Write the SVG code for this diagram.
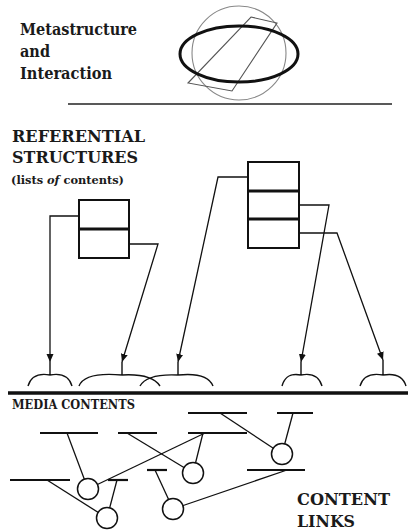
<svg xmlns="http://www.w3.org/2000/svg" width="408" height="531" viewBox="0 0 408 531">
  <style>
    text { font-family: 'DejaVu Serif', 'Liberation Serif', serif; font-weight: bold; fill: #1a1a1a; }
    .box { fill: none; stroke: #111; stroke-width: 2; }
    .div { stroke: #111; stroke-width: 3; }
    .conn { fill: none; stroke: #111; stroke-width: 1.3; }
    .fork { fill: none; stroke: #111; stroke-width: 1.4; }
    .seg { stroke: #111; stroke-width: 2.2; }
    .link { stroke: #111; stroke-width: 1.3; }
    .node { fill: #fff; stroke: #111; stroke-width: 1.5; }
  </style>
  <defs>
    <marker id="arrow" markerUnits="userSpaceOnUse" markerWidth="9" markerHeight="8" refX="8" refY="3.5" orient="auto">
      <path d="M0,0 L8,3.5 L0,7 z" fill="#111"/>
    </marker>
  </defs>
  <rect width="408" height="531" fill="#fff"/>

  <!-- metastructure level -->
  <g id="meta-label">
    <text x="20" y="35" font-size="16" textLength="117" lengthAdjust="spacingAndGlyphs">Metastructure</text>
    <text x="20" y="57" font-size="16" textLength="30" lengthAdjust="spacingAndGlyphs">and</text>
    <text x="20" y="79" font-size="16" textLength="92" lengthAdjust="spacingAndGlyphs">Interaction</text>
  </g>
  <g id="meta-figure">
    <circle cx="239" cy="53" r="47" fill="none" stroke="#888" stroke-width="1.1"/>
    <polygon points="251,17 277,23 232,91 188,83" fill="none" stroke="#555" stroke-width="1.1"/>
    <ellipse cx="239" cy="54" rx="59" ry="28" fill="none" stroke="#111" stroke-width="3"/>
  </g>
  <line x1="68" y1="104" x2="392" y2="104" stroke="#222" stroke-width="1.5"/>

  <!-- referential structures -->
  <g id="ref-label">
    <text x="12" y="142" font-size="17.5" textLength="133" lengthAdjust="spacingAndGlyphs">REFERENTIAL</text>
    <text x="12" y="163" font-size="17.5" textLength="126" lengthAdjust="spacingAndGlyphs">STRUCTURES</text>
    <text x="11" y="184" font-size="11.5" textLength="113" lengthAdjust="spacingAndGlyphs">(lists <tspan font-style="italic">of</tspan> contents)</text>
  </g>
  <g id="list-a">
    <rect class="box" x="79" y="200" width="50" height="58"/>
    <line class="div" x1="79" y1="229" x2="129" y2="229"/>
  </g>
  <g id="list-b">
    <rect class="box" x="248" y="162" width="51" height="86"/>
    <line class="div" x1="248" y1="191" x2="299" y2="191"/>
    <line class="div" x1="248" y1="219" x2="299" y2="219"/>
  </g>

  <g id="connectors">
    <path class="conn" d="M79,216 H50 V362" marker-end="url(#arrow)"/>
    <path class="conn" d="M129,244 H158 L122,362" marker-end="url(#arrow)"/>
    <path class="conn" d="M248,177 H218 L178,362" marker-end="url(#arrow)"/>
    <path class="conn" d="M299,205 H329 L301,362" marker-end="url(#arrow)"/>
    <path class="conn" d="M299,233 H337 L383,360" marker-end="url(#arrow)"/>
  </g>

  <!-- branching anchors on the content line -->
  <g id="anchors">
    <path class="fork" d="M50,362 V375 M50,375 C39,373 31,376 28,386 M50,375 C61,373 69,376 72,386"/>
    <path class="fork" d="M122,362 V375 M122,375 C100,373 83,376 79,386 M122,375 C140,374 154,377 160,386"/>
    <path class="fork" d="M178,362 V375 M178,375 C158,374 145,377 140,386 M178,375 C197,373 209,376 213,386"/>
    <path class="fork" d="M301,362 V375 M301,375 C291,373 285,376 282,386 M301,375 C311,373 319,376 322,386"/>
    <path class="fork" d="M383,360 V375 M383,375 C372,373 363,376 360,386 M383,375 C395,373 403,376 406,386"/>
  </g>
  <line x1="8" y1="393" x2="408" y2="393" stroke="#111" stroke-width="3.5"/>

  <!-- media contents -->
  <g id="media-label">
    <text x="12" y="409" font-size="12" textLength="123" lengthAdjust="spacingAndGlyphs">MEDIA CONTENTS</text>
  </g>
  <g id="content-links">
    <line class="link" x1="220" y1="413" x2="282" y2="454"/>
    <line class="link" x1="293" y1="413" x2="282" y2="454"/>
    <line class="link" x1="67" y1="433" x2="88" y2="489"/>
    <line class="link" x1="127" y1="433" x2="193" y2="473"/>
    <line class="link" x1="203" y1="433" x2="193" y2="473"/>
    <line class="link" x1="205" y1="433" x2="88" y2="489"/>
    <line class="link" x1="47" y1="480" x2="107" y2="518"/>
    <line class="link" x1="117" y1="480" x2="107" y2="518"/>
    <line class="link" x1="155" y1="470" x2="173" y2="509"/>
    <line class="link" x1="287" y1="470" x2="173" y2="509"/>
  </g>
  <g id="segments">
    <line class="seg" x1="188" y1="413" x2="247" y2="413"/>
    <line class="seg" x1="277" y1="413" x2="313" y2="413"/>
    <line class="seg" x1="40" y1="433" x2="98" y2="433"/>
    <line class="seg" x1="118" y1="433" x2="157" y2="433"/>
    <line class="seg" x1="188" y1="433" x2="247" y2="433"/>
    <line class="seg" x1="10" y1="480" x2="70" y2="480"/>
    <line class="seg" x1="108" y1="480" x2="128" y2="480"/>
    <line class="seg" x1="147" y1="470" x2="167" y2="470"/>
    <line class="seg" x1="247" y1="470" x2="305" y2="470"/>
  </g>
  <g id="link-a"><circle class="node" cx="282" cy="454" r="10.5"/></g>
  <g id="link-b"><circle class="node" cx="193" cy="473" r="10.5"/></g>
  <g id="link-c"><circle class="node" cx="88" cy="489" r="10.5"/></g>
  <g id="link-d"><circle class="node" cx="107" cy="518" r="10.5"/></g>
  <g id="link-e"><circle class="node" cx="173" cy="509" r="10.5"/></g>

  <g id="links-label">
    <text x="297" y="505" font-size="17.5" textLength="93" lengthAdjust="spacingAndGlyphs">CONTENT</text>
    <text x="297" y="527" font-size="17.5" textLength="58" lengthAdjust="spacingAndGlyphs">LINKS</text>
  </g>
</svg>
